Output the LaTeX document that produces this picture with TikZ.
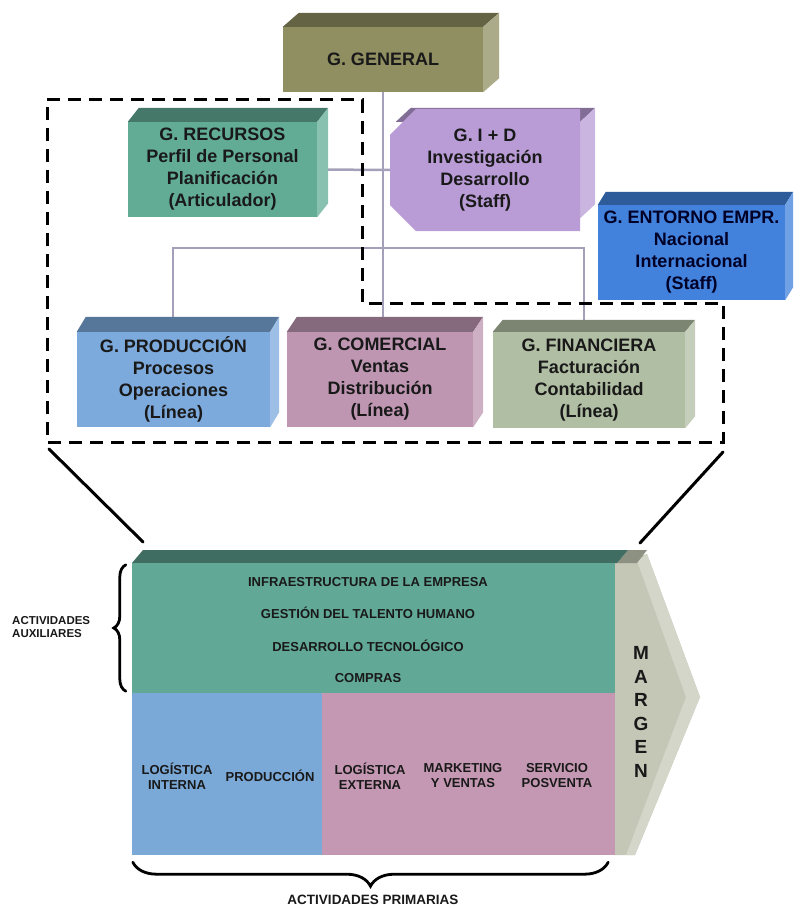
\documentclass[tikz,border=0pt]{standalone}
\usepackage{fontspec}
\setmainfont{Liberation Sans}
\usetikzlibrary{calc,decorations.pathreplacing,shapes.misc}

% face colours
\definecolor{genF}{RGB}{143,143,98}
\definecolor{recF}{RGB}{98,172,150}
\definecolor{iddF}{RGB}{185,156,214}
\definecolor{entF}{RGB}{66,130,220}
\definecolor{proF}{RGB}{125,170,220}
\definecolor{comF}{RGB}{190,150,178}
\definecolor{finF}{RGB}{176,190,163}
\definecolor{vcG}{RGB}{98,168,150}
\definecolor{vcB}{RGB}{122,168,215}
\definecolor{vcP}{RGB}{196,152,178}
\definecolor{marF}{RGB}{196,198,182}
\definecolor{marL}{RGB}{212,214,201}
\definecolor{marT}{RGB}{140,145,130}
\definecolor{link}{RGB}{165,160,185}
\definecolor{txt}{RGB}{25,25,25}

\tikzset{
  orgbox/.style={inner sep=0pt, text=txt, align=center,
    font=\fontsize{18}{22}\selectfont\bfseries},
  chaintext/.style={inner sep=0pt, text=txt, align=center,
    font=\fontsize{13}{15}\selectfont\bfseries},
  primtext/.style={inner sep=0pt, text=txt, align=center,
    font=\fontsize{13}{15}\selectfont\bfseries},
  smalllabel/.style={inner sep=0pt, text=txt,
    font=\fontsize{11.5}{13}\selectfont\bfseries},
  linkline/.style={draw=link, line width=2.5pt},
  frame/.style={line width=3pt, dash pattern=on 13pt off 8pt},
  bracket/.style={decorate, line width=2.8pt, line cap=round},
}

% top and right faces of a box whose front face is node #1
\newcommand\boxfaces[4]{%
  \fill[#2!70!black] (#1.north west) -- ++(#3,-#4) -- ($(#1.north east)+(#3,-#4)$) -- (#1.north east) -- cycle;
  \fill[#2!75!white] (#1.north east) -- ++(#3,-#4) -- ($(#1.south east)+(#3,-#4)$) -- (#1.south east) -- cycle;}

\begin{document}
\begin{tikzpicture}[x=1pt,y=-1pt]
\useasboundingbox (0,0) rectangle (802,909);

% ---------- organisation chart ----------
\coordinate (busL) at (173,248);
\coordinate (busR) at (584,248);

% front faces (positions only, drawn later)
\path
  node[orgbox, minimum width=200pt, minimum height=65pt] (gen) at (383,59.5) {}
  node[orgbox, minimum width=189pt, minimum height=95pt] (rec) at (222.5,169.5) {}
  node[orgbox, minimum width=190pt, minimum height=96pt] (idd) at (485,170) {}
  node[orgbox, minimum width=187pt, minimum height=95pt] (ent) at (691.5,252.5) {}
  node[orgbox, minimum width=193pt, minimum height=95pt] (pro) at (173.5,379.5) {}
  node[orgbox, minimum width=186pt, minimum height=95pt] (com) at (380,379.5) {}
  node[orgbox, minimum width=192pt, minimum height=96pt] (fin) at (589,380) {};

% connectors
\draw[linkline] (gen.south) -- (gen.south |- com.north);
\draw[linkline] (rec.east) -- (idd.west);
\draw[linkline] (pro.north -| busL) -- (busL) -- (busR) -- (busR |- fin.north);

% boxes
\boxfaces{gen}{genF}{16}{14}
\node[orgbox, fill=genF, minimum width=200pt, minimum height=65pt] at (gen) {G. GENERAL};

\boxfaces{rec}{recF}{11}{14}
\node[orgbox, fill=recF, minimum width=189pt, minimum height=95pt] at (rec)
  {G. RECURSOS\\Perfil de Personal\\Planificación\\(Articulador)};

% I+D: bevelled left edge, so its top face starts after the bevel
\fill[iddF!70!black] ([xshift=6pt]idd.north west) -- ++(15,-14) -- ($(idd.north east)+(15,-14)$) -- (idd.north east) -- cycle;
\fill[iddF!75!white] (idd.north east) -- ++(15,-14) -- ($(idd.south east)+(15,-14)$) -- (idd.south east) -- cycle;
\node[orgbox, fill=iddF, chamfered rectangle, chamfered rectangle corners={north west,south west},
  chamfered rectangle xsep=6pt, chamfered rectangle ysep=20pt,
  minimum width=190pt, minimum height=96pt] at (idd)
  {G. I + D\\Investigación\\Desarrollo\\(Staff)};

\boxfaces{ent}{entF}{8}{13}
\node[orgbox, fill=entF, text=black!85!blue, minimum width=187pt, minimum height=95pt] at (ent)
  {G. ENTORNO EMPR.\\Nacional\\Internacional\\(Staff)};

\boxfaces{pro}{proF}{9}{15}
\node[orgbox, fill=proF, minimum width=193pt, minimum height=95pt] at (pro)
  {G. PRODUCCIÓN\\Procesos\\Operaciones\\(Línea)};

\boxfaces{com}{comF}{10}{15}
\node[orgbox, fill=comF, minimum width=186pt, minimum height=95pt] at (com)
  {G. COMERCIAL\\Ventas\\Distribución\\(Línea)};

\boxfaces{fin}{finF}{10}{12}
\node[orgbox, fill=finF, minimum width=192pt, minimum height=96pt] at (fin)
  {G. FINANCIERA\\Facturación\\Contabilidad\\(Línea)};

% dashed outline of the managed area
\coordinate (fTL) at (47,100);
\coordinate (fTM) at (362,100);
\coordinate (fMM) at (362,303);
\coordinate (fMR) at (723,303);
\coordinate (fBR) at (723,442);
\coordinate (fBL) at (47,442);
\draw[frame] (fTL) -- (fTM) -- (fMM) -- (fMR) -- (fBR) -- (fBL) -- cycle;

% zoom lines down to the value chain
\coordinate (zL) at (49,449);
\coordinate (zR) at (723,452);
\coordinate (cL) at (143,542);
\coordinate (cR) at (640,543);
\draw[line width=3pt, line cap=round] (zL) -- (cL);
\draw[line width=3pt, line cap=round] (zR) -- (cR);

% ---------- value chain ----------
% margin arrow
\fill[marF] (615,563) -- (647,554) -- (700,697) -- (635,855) -- (615,855) -- cycle;
\fill[marL] (647,554) -- (700,697) -- (635,855) -- (626,855) -- (686,697) -- (637,561) -- cycle;
\fill[marT] (617,563) -- (628,550) -- (647,550) -- (637,563) -- cycle;
\fill[vcG!65!black] (132,563) -- (143,550) -- (628,550) -- (617,563) -- cycle;

\node[fill=vcG, inner sep=0pt, minimum width=483pt, minimum height=130pt] (sup) at (373.5,628) {};
\node[fill=vcB, inner sep=0pt, minimum width=190pt, minimum height=162pt] (pin) at (227,774) {};
\node[fill=vcP, inner sep=0pt, minimum width=293pt, minimum height=162pt] (pex) at (468.5,774) {};

\node[chaintext] (s1) at (368,582) {INFRAESTRUCTURA DE LA EMPRESA};
\node[chaintext] (s2) at (368,613) {GESTIÓN DEL TALENTO HUMANO};
\node[chaintext] (s3) at (368,646) {DESARROLLO TECNOLÓGICO};
\node[chaintext] (s4) at (368,678) {COMPRAS};

\node[primtext] (p1) at (177,776) {LOGÍSTICA\\INTERNA};
\node[primtext] (p2) at (270,776) {PRODUCCIÓN};
\node[primtext] (p3) at (370,776) {LOGÍSTICA\\EXTERNA};
\node[primtext] (p4) at (463,776) {MARKETING\\Y VENTAS};
\node[primtext] (p5) at (557,776) {SERVICIO\\POSVENTA};

\node[inner sep=0pt, text=txt, align=center, font=\fontsize{19}{23.5}\selectfont\bfseries]
  (mar) at (641,712) {M\\A\\R\\G\\E\\N};

% braces and their labels
\draw[bracket, decoration={brace, amplitude=12pt}]
  ([xshift=-6pt, yshift=2pt]sup.south west) -- ([xshift=-6pt, yshift=-2pt]sup.north west);
\node[smalllabel, align=left, anchor=west] (aux) at (12,627) {ACTIVIDADES\\AUXILIARES};

\draw[bracket, decoration={brace, amplitude=24pt}]
  ([shift={(-7,7)}]pex.south east) -- ([shift={(1,7)}]pin.south west);
\node[smalllabel, font=\fontsize{13.5}{15}\selectfont\bfseries] (prim) at (373,900) {ACTIVIDADES PRIMARIAS};

\end{tikzpicture}
\end{document}
